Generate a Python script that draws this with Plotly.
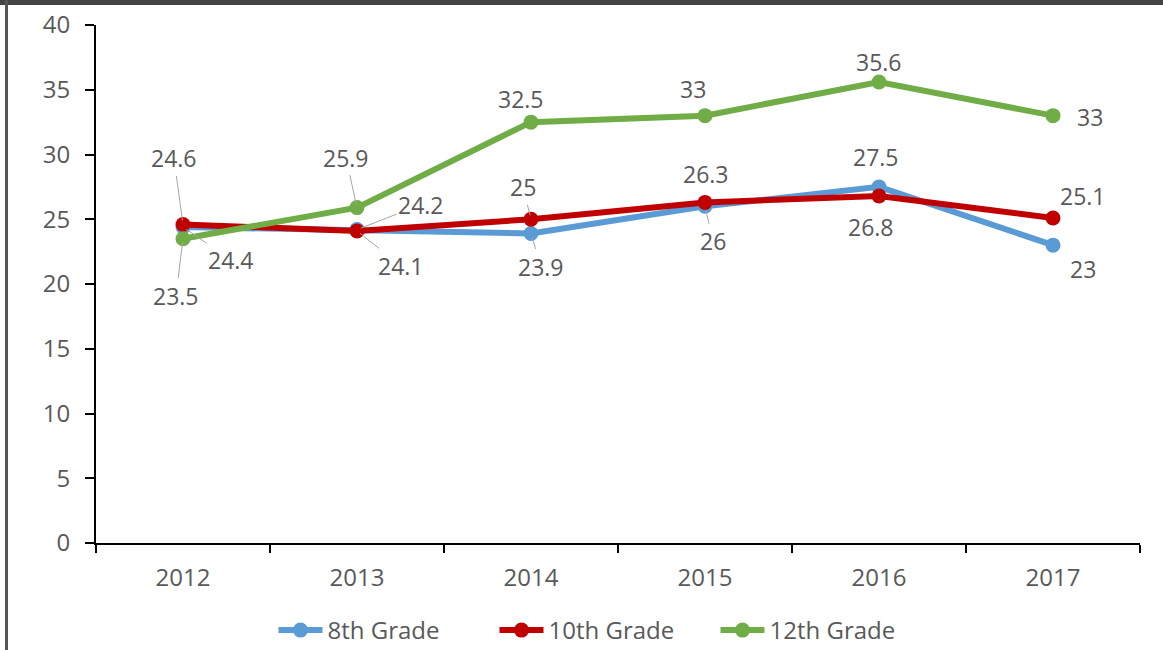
import plotly.graph_objects as go

# Survey results by school year
years = ["2012", "2013", "2014", "2015", "2016", "2017"]
grade8 = [24.4, 24.2, 23.9, 26.0, 27.5, 23.0]
grade10 = [24.6, 24.1, 25.0, 26.3, 26.8, 25.1]
grade12 = [23.5, 25.9, 32.5, 33.0, 35.6, 33.0]
series_names = ["8th Grade", "10th Grade", "12th Grade"]
y_ticks = [0, 5, 10, 15, 20, 25, 30, 35, 40]

colors = ["#5B9BD5", "#C00000", "#70AD47"]
text_color = "#595959"
font_family = "Open Sans, DejaVu Sans, sans-serif"
W, H = 1163, 650

# Label placement for each series: (dx, dy, leader line shown)
label_offsets = [
    [(48, 33, True), (64, -25, True), (10, 33, True), (8, 35, True), (-3, -30, False), (30, 24, False)],
    [(-9, -66, True), (44, 35, True), (-8, -32, True), (1, -28, False), (-8, 31, False), (30, -22, False)],
    [(-7, 57, True), (-11, -50, True), (-10, -23, False), (-12, -27, False), (0, -20, False), (37, 1, False)],
]

fig = go.Figure()
all_series = [grade8, grade10, grade12]
for name, vals, col in zip(series_names, all_series, colors):
    fig.add_trace(go.Scatter(
        x=years, y=vals, name=name, mode="lines+markers",
        line=dict(color=col, width=6),
        marker=dict(color=col, size=15),
    ))

annotations = []
for vals, offs in zip(all_series, label_offsets):
    for i, (v, (dx, dy, leader)) in enumerate(zip(vals, offs)):
        annotations.append(dict(
            x=i, y=v, xref="x", yref="y",
            text=f"{v:g}",
            showarrow=True, arrowhead=0, arrowwidth=1,
            arrowcolor="#A6A6A6" if leader else "rgba(255,255,255,0)",
            ax=dx, ay=dy, standoff=4,
            font=dict(family=font_family, size=23, color=text_color),
        ))

fig.update_layout(
    width=W, height=H,
    margin=dict(l=0, r=0, t=0, b=0, autoexpand=False),
    paper_bgcolor="white", plot_bgcolor="white",
    font=dict(family=font_family, size=23, color=text_color),
    showlegend=True,
    legend=dict(orientation="h", x=605 / W, xanchor="center", y=(H - 608) / H, yanchor="top",
                font=dict(size=24, color=text_color), itemwidth=44,
                entrywidth=162, entrywidthmode="pixels"),
    annotations=annotations,
    shapes=[
        # frame edges
        dict(type="rect", xref="paper", yref="paper",
             x0=0, x1=1, y0=1 - 5 / H, y1=1,
             fillcolor="#444444", line=dict(width=0), layer="above"),
        dict(type="rect", xref="paper", yref="paper",
             x0=5 / W, x1=8 / W, y0=0, y1=1,
             fillcolor="#555555", line=dict(width=0), layer="above"),
    ],
)
fig.update_xaxes(
    type="category", range=[-0.5, 5.5], domain=[96 / W, 1140 / W],
    showline=True, linecolor="black", linewidth=2,
    ticks="outside", tickson="boundaries", ticklen=8, tickwidth=2, tickcolor="black",
    ticklabelstandoff=12,
    showgrid=False, zeroline=False,
    tickfont=dict(size=24, color=text_color),
)
fig.update_yaxes(
    range=[0, 40], tickvals=y_ticks, domain=[(H - 543) / H, (H - 25) / H],
    showline=True, linecolor="black", linewidth=2,
    ticks="outside", ticklen=9, tickwidth=2, tickcolor="black",
    ticklabelstandoff=10,
    showgrid=False, zeroline=False,
    tickfont=dict(size=24, color=text_color),
)

fig.write_html("out.html")
